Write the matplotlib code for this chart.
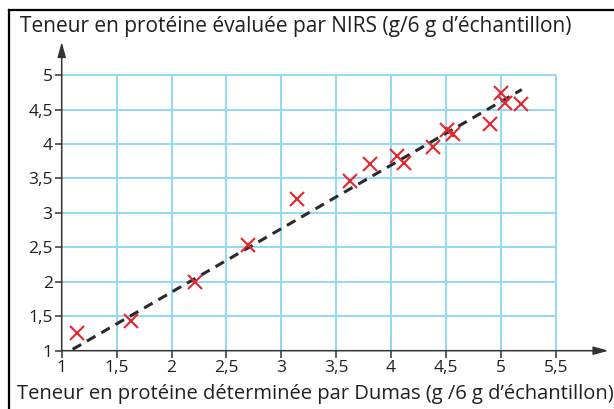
import matplotlib
matplotlib.use("Agg")
import matplotlib.pyplot as plt
from matplotlib.lines import Line2D

# Data
dumas = [1.14, 1.63, 2.21, 2.70, 3.14, 3.63, 3.81, 4.05, 4.12, 4.38, 4.51, 4.56, 4.90, 5.00, 5.04, 5.18]
nirs = [1.26, 1.43, 2.00, 2.54, 3.20, 3.47, 3.71, 3.82, 3.73, 3.96, 4.21, 4.15, 4.29, 4.74, 4.60, 4.58]
fit_x = [1.10, 5.19]
fit_y = [1.02, 4.79]
xticks = [1, 1.5, 2, 2.5, 3, 3.5, 4, 4.5, 5, 5.5]
yticks = [1, 1.5, 2, 2.5, 3, 3.5, 4, 4.5, 5]
title_text = "Teneur en protéine évaluée par NIRS (g/6 g d\u2019échantillon)"
xlabel_text = "Teneur en protéine déterminée par Dumas (g /6 g d\u2019échantillon)"

W, H = 614, 409
fig = plt.figure(figsize=(W / 100, H / 100), dpi=100)
plt.rcParams['font.family'] = ['Open Sans', 'DejaVu Sans']
txt_color = '#231f20'
grid_color = '#94d8f6'

# axes: x=1 at px 61.7, 109.8 px/unit; y=1 at px 350.7, 68.9 px/unit
x0_px, xs = 61.7, 109.8
y0_px, ys = 350.7, 68.9
xmin, xmax = 1.0, 6.0
ymin, ymax = 1.0, 5.55
ax = fig.add_axes([x0_px / W, (H - y0_px) / H, (xmax - xmin) * xs / W, (ymax - ymin) * ys / H])
ax.set_xlim(xmin, xmax)
ax.set_ylim(ymin, ymax)
for s in ax.spines.values():
    s.set_visible(False)
ax.patch.set_visible(False)

# grid
ax.vlines(xticks[1:], 1, 5, colors=grid_color, linewidth=1.4, zorder=1)
ax.hlines(yticks[1:], 1, 5.5, colors=grid_color, linewidth=1.4, zorder=1)

# axes arrows
ax.annotate('', xy=(5.98, 1), xytext=(1, 1),
            arrowprops=dict(arrowstyle='-|>,head_length=0.9,head_width=0.25', color='#333333', lw=1.1,
                            shrinkA=0, shrinkB=0), annotation_clip=False, zorder=3)
ax.annotate('', xy=(1, 5.48), xytext=(1, 1),
            arrowprops=dict(arrowstyle='-|>,head_length=0.9,head_width=0.25', color='#333333', lw=1.1,
                            shrinkA=0, shrinkB=0), annotation_clip=False, zorder=3)

ax.set_xticks(xticks)
ax.set_xticklabels([f"{t:g}".replace('.', ',') for t in xticks])
ax.set_yticks(yticks)
ax.set_yticklabels([f"{t:g}".replace('.', ',') for t in yticks])
ax.tick_params(direction='out', length=5, width=1.1, color='#333333', labelcolor=txt_color,
               labelsize=12.5, pad=1.5)

# data
ax.plot(fit_x, fit_y, linestyle=(0, (3.2, 2.2)), color='#2a2a2a', linewidth=2.2, zorder=4)
ax.plot(dumas, nirs, linestyle='none', marker='x', markersize=9.5, markeredgewidth=1.5,
        color='#e8262d', zorder=5)

# titles
t1 = fig.text(20 / W, 1 - 32 / H, title_text, ha='left', va='baseline', color=txt_color, fontsize=13)
t2 = fig.text(17 / W, 1 - 399 / H, xlabel_text, ha='left', va='baseline', color=txt_color, fontsize=13)
fig.canvas.draw()
r = fig.canvas.get_renderer()
for t, target in [(t1, 551), (t2, 592)]:
    w = t.get_window_extent(r).width
    t.set_fontsize(13 * target / w)

# frame
fig.add_artist(Line2D([9 / W, 9 / W], [0, 1 - 10 / H], transform=fig.transFigure, color='black', lw=1.6))
fig.add_artist(Line2D([9 / W, 1], [1 - 10 / H, 1 - 10 / H], transform=fig.transFigure, color='black', lw=1.6))

fig.savefig('out.png', dpi=100)
